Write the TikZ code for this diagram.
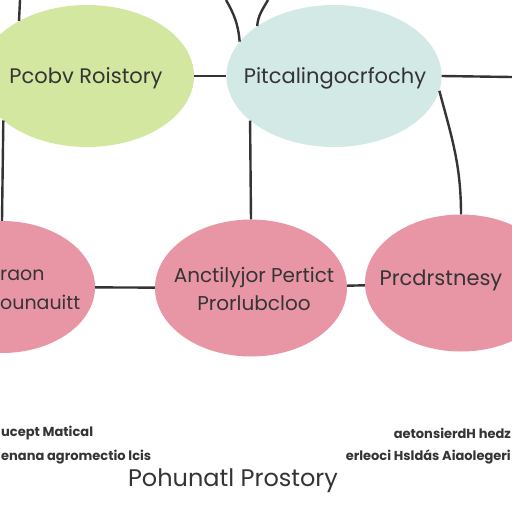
\documentclass[tikz,border=0pt]{standalone}
\usepackage{xcolor}
\usepackage{fontspec}
\setmainfont{Poppins}
\usetikzlibrary{shapes.geometric,positioning}

\definecolor{leafgreen}{RGB}{212,231,160}
\definecolor{mistblue}{RGB}{210,233,230}
\definecolor{rosepink}{RGB}{232,150,166}
\definecolor{inkgray}{RGB}{52,52,52}

\begin{document}
\begin{tikzpicture}[x=1pt,y=-1pt,
		topic/.style={ellipse,inner sep=0pt},
		words/.style={inner sep=0pt,text=inkgray,font=\fontsize{21}{28}\selectfont},
		link/.style={draw=inkgray,line width=2.4pt},
		notes/.style={text=inkgray,font=\bfseries\fontsize{13}{24}\selectfont,inner sep=0pt}]
		\useasboundingbox[fill=white] (0,0) rectangle (512,512);
		%
		\node[topic,fill=leafgreen,minimum width=214pt,minimum height=142pt] (hist) at (87,76) {};
		\node[topic,fill=mistblue,minimum width=215pt,minimum height=142pt] (plan) at (334,76) {};
		\node[topic,fill=rosepink,minimum width=186pt,minimum height=132pt] (lpink) at (2,287) {};
		\node[topic,fill=rosepink,minimum width=192pt,minimum height=137pt] (mpink) at (251,288) {};
		\node[topic,fill=rosepink,minimum width=192pt,minimum height=137pt] (rpink) at (461,283) {};
		%
		\node[words] (histtext) at (86,78) {Pcobv Roistory};
		\node[words] (plantext) at (335,78) {Pitcalingocrfochy};
		\node[words,anchor=west,align=left,font=\fontsize{19}{29}\selectfont] (ltext) at (0,290) {raon\\ounauitt};
		\node[words,align=center,font=\fontsize{20}{28}\selectfont] (mtext) at (254,289) {Anctilyjor Pertict\\Prorlubcloo};
		\node[words,font=\fontsize{21}{24}\selectfont] (rtext) at (441,280) {Prcdrstnesy};
		%
		\coordinate (tl) at (20,0);
		\coordinate (tr) at (512,77);
		\coordinate (ta) at (226,0);
		\coordinate (tb) at (268,0);
		%
		\draw[link] (hist) -- (plan);
		\draw[link] (plan.east) -- (tr);
		\draw[link] (lpink) -- (mpink);
		\draw[link] (mpink) -- (rpink);
		\draw[link] (hist.141) -- (tl);
		\draw[link] (hist.208) -- (lpink.north);
		\draw[link] (plan.208) -- (mpink.north);
		\draw[link] (plan.352) to[out=-75,in=90] (rpink.north);
		\draw[link] (ta) to[out=-60,in=95] (plan.160);
		\draw[link] (tb) to[out=-120,in=85] (plan.147);
		%
		\node[notes,anchor=west] (bl1) at (1,433) {ucept Matical};
		\node[notes,anchor=west] (bl2) at (1,457) {enana agromectio lcis};
		\node[notes,anchor=east] (br1) at (511,433) {aetonsierdH hedz};
		\node[notes,anchor=east] (br2) at (511,457) {erleoci Hsldás Aiaolegeri};
		\node[words,font=\fontsize{24}{28}\selectfont] (caption) at (233,481) {Pohunatl Prostory};
\end{tikzpicture}
\end{document}
